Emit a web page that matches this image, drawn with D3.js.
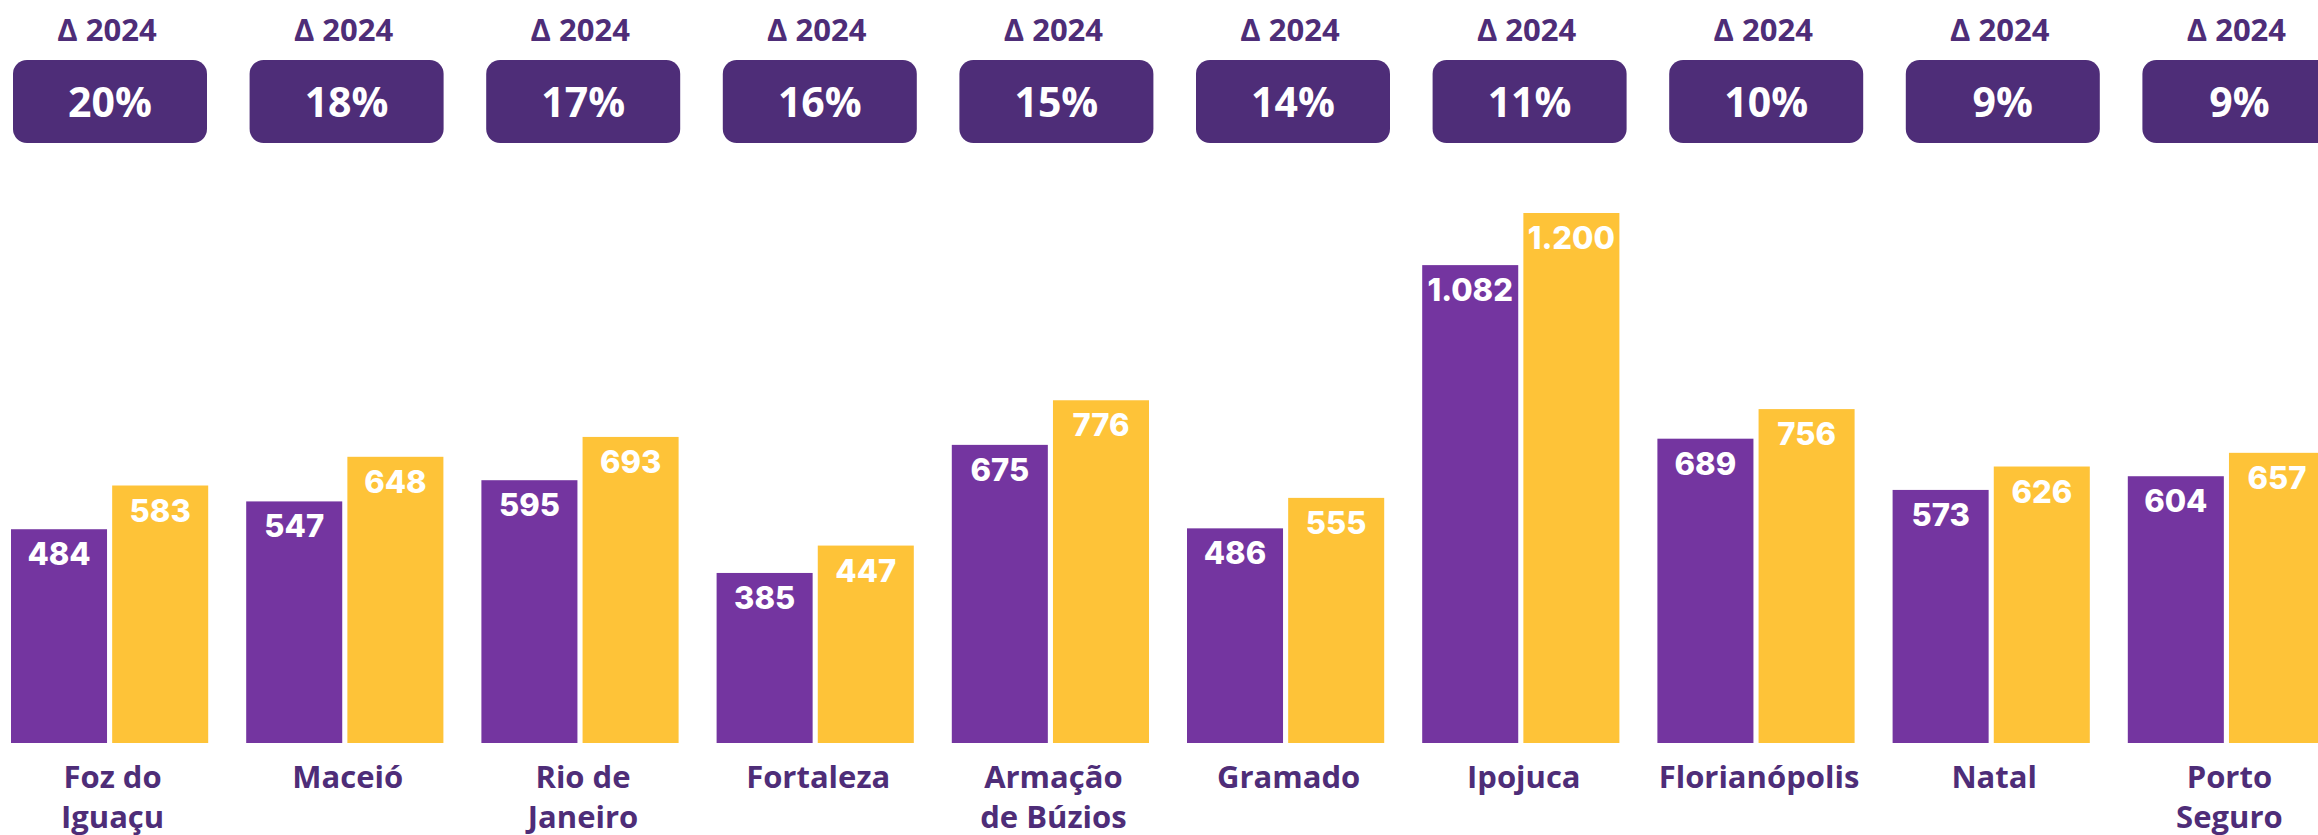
<!DOCTYPE html>
<html>
<head>
<meta charset="utf-8">
<script src="https://cdn.jsdelivr.net/npm/d3@7"></script>
<style>
  body { margin: 0; background: #fff; }
  svg { display: block; }
</style>
</head>
<body>
<svg id="chart" width="2318" height="835"></svg>
<script>
const cities = [
  ["Foz do", "Iguaçu"],
  ["Maceió"],
  ["Rio de", "Janeiro"],
  ["Fortaleza"],
  ["Armação", "de Búzios"],
  ["Gramado"],
  ["Ipojuca"],
  ["Florianópolis"],
  ["Natal"],
  ["Porto", "Seguro"]
];
const prevValues = [484, 547, 595, 385, 675, 486, 1082, 689, 573, 604];
const currValues = [583, 648, 693, 447, 776, 555, 1200, 756, 626, 657];
const deltas = ["20%", "18%", "17%", "16%", "15%", "14%", "11%", "10%", "9%", "9%"];
const deltaTitle = "Δ 2024";

const purple = "#7435a0";
const yellow = "#fec338";
const dark = "#4e2d78";

const svg = d3.select("#chart");
const baseline = 743;
const n = cities.length;

const idx = d3.range(n);
// step 235.2, gap between groups 38
const x = d3.scaleBand()
  .domain(idx)
  .range([11, 11 + 235.2 * n - 38])
  .paddingInner(38 / 235.2)
  .paddingOuter(0);
const xSub = d3.scaleBand()
  .domain(["prev", "curr"])
  .range([0, x.bandwidth()])
  .paddingInner(5 / 98.5);

const y = d3.scaleLinear().domain([0, 1200]).range([baseline, 213]);

const fmt = d3.formatLocale({ decimal: ",", thousands: ".", grouping: [3], currency: ["R$", ""] }).format(",d");

// boxes sit on a slightly wider step than the bars
const xBox = d3.scaleBand()
  .domain(idx)
  .range([13, 13 + 236.6 * n - 42.6])
  .paddingInner(42.6 / 236.6)
  .paddingOuter(0);

const rows = idx.map(i => ({ i, prev: prevValues[i], curr: currValues[i] }));

// delta header
const head = svg.append("g").selectAll("g").data(rows).join("g")
  .attr("transform", d => `translate(${xBox(d.i)},0)`);
head.append("text")
  .attr("x", xBox.bandwidth() / 2 - 3)
  .attr("y", 41)
  .attr("text-anchor", "middle")
  .attr("fill", dark)
  .style("font", "bold 31px 'Open Sans'")
  .text(deltaTitle);
head.append("rect")
  .attr("y", 60)
  .attr("width", xBox.bandwidth())
  .attr("height", 83)
  .attr("rx", 14)
  .attr("fill", dark);
head.append("text")
  .attr("x", xBox.bandwidth() / 2)
  .attr("y", 117)
  .attr("text-anchor", "middle")
  .attr("fill", "#fff")
  .style("font", "bold 41px 'Open Sans'")
  .text(d => deltas[d.i]);

// bars
const group = svg.append("g").selectAll("g").data(rows).join("g")
  .attr("transform", d => `translate(${x(d.i)},0)`);

const series = [
  { key: "prev", color: purple },
  { key: "curr", color: yellow }
];
series.forEach(s => {
  group.append("rect")
    .attr("x", xSub(s.key))
    .attr("y", d => y(d[s.key]))
    .attr("width", xSub.bandwidth())
    .attr("height", d => baseline - y(d[s.key]))
    .attr("fill", s.color);
  group.append("text")
    .attr("x", xSub(s.key) + xSub.bandwidth() / 2)
    .attr("y", d => y(d[s.key]) + 36)
    .attr("text-anchor", "middle")
    .attr("fill", "#fff")
    .style("font", "800 31px Inter")
    .text(d => fmt(d[s.key]));
});

// category labels
const lab = group.append("text")
  .attr("text-anchor", "middle")
  .attr("fill", dark)
  .style("font", "bold 31px 'Open Sans'");
lab.selectAll("tspan").data(d => cities[d.i]).join("tspan")
  .attr("x", x.bandwidth() / 2 + 3)
  .attr("y", (t, j) => 788 + j * 40)
  .text(t => t);
</script>
</body>
</html>
